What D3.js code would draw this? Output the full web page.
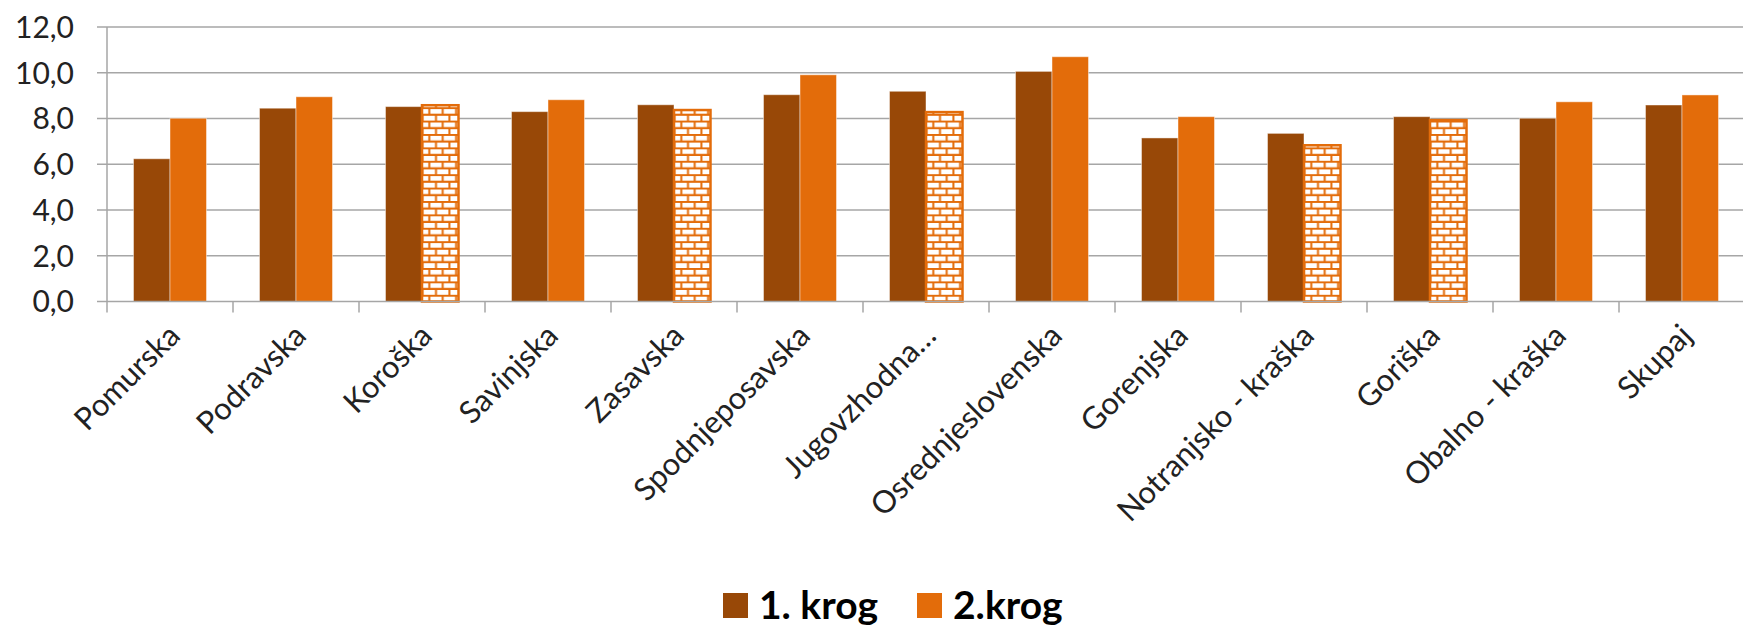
<!DOCTYPE html>
<html>
<head>
<meta charset="utf-8">
<script src="https://cdn.jsdelivr.net/npm/d3@7"></script>
<style>
  html, body { margin: 0; padding: 0; background: #fff; }
  svg { display: block; font-family: Lato, "Open Sans", sans-serif; }
</style>
</head>
<body>
<div id="chart"></div>
<script>
const regions = [
  "Pomurska", "Podravska", "Koroška", "Savinjska", "Zasavska",
  "Spodnjeposavska", "Jugovzhodna…", "Osrednjeslovenska", "Gorenjska",
  "Notranjsko - kraška", "Goriška", "Obalno - kraška", "Skupaj",
];
const krog1 = [6.24, 8.45, 8.52, 8.30, 8.60, 9.04, 9.19, 10.06, 7.15, 7.35, 8.08, 8.01, 8.59];
const krog2 = [8.01, 8.95, 8.58, 8.82, 8.37, 9.91, 8.28, 10.70, 8.08, 6.83, 7.93, 8.73, 9.03];
// 2. krog bars drawn with the brick hatch
const hatched = ["Koroška", "Zasavska", "Jugovzhodna…", "Notranjsko - kraška", "Goriška"];
const seriesNames = ["1. krog", "2.krog"];
const yTicks = [0, 2, 4, 6, 8, 10, 12];

const colors = { "1. krog": "#984807", "2.krog": "#E36C0A" };

const W = 1743, H = 626;
const margin = { top: 27, left: 107 };
const band = 126;
const baseY = 301.5;

const svg = d3.select("#chart").append("svg").attr("width", W).attr("height", H);

const defs = svg.append("defs");
const brick = defs.append("pattern")
  .attr("id", "brick")
  .attr("patternUnits", "userSpaceOnUse")
  .attr("width", 13.4).attr("height", 13.4);
brick.append("rect").attr("width", 13.4).attr("height", 13.4).attr("fill", "#fff");
brick.append("path")
  .attr("d", "M0,0.8H13.4M0,7.5H13.4M3.3,0V7.5M10,7.5V13.4")
  .attr("stroke", colors["2.krog"]).attr("stroke-width", 2).attr("fill", "none");

const x = d3.scaleBand().domain(regions).range([margin.left, margin.left + band * regions.length]);
const xs = d3.scaleBand().domain(seriesNames).range([26.5, band - 26.5]);
const y = d3.scaleLinear().domain([0, 12]).range([baseY, margin.top]);

// grid
svg.append("g").selectAll("line").data(yTicks.slice(1)).enter().append("line")
  .attr("x1", margin.left - 10).attr("x2", W)
  .attr("y1", (d) => y(d)).attr("y2", (d) => y(d))
  .attr("stroke", "#a6a6a6").attr("stroke-width", 1.5);

// y labels
svg.append("g").selectAll("text").data(yTicks).enter().append("text")
  .attr("x", 74).attr("y", (d) => y(d)).attr("dy", "0.36em")
  .attr("text-anchor", "end").attr("font-size", 30).attr("fill", "#222")
  .text((d) => d.toFixed(1).replace(".", ","));

// bars
const rows = regions.map((r, i) => ({ region: r, values: [krog1[i], krog2[i]] }));
const groups = svg.append("g").selectAll("g").data(rows).enter().append("g")
  .attr("transform", (d) => `translate(${x(d.region)},0)`);
groups.selectAll("rect")
  .data((d) => d.values.map((v, j) => ({ region: d.region, s: seriesNames[j], v })))
  .enter().append("rect")
  .attr("x", (d) => xs(d.s))
  .attr("y", (d) => y(d.v))
  .attr("width", xs.bandwidth())
  .attr("height", (d) => baseY - y(d.v))
  .attr("fill", (d) => d.s === "2.krog" && hatched.includes(d.region) ? "url(#brick)" : colors[d.s])
  .attr("stroke", (d) => d.s === "2.krog" && hatched.includes(d.region) ? colors["2.krog"] : "rgba(255,255,255,0.45)")
  .attr("stroke-width", (d) => d.s === "2.krog" && hatched.includes(d.region) ? 2.5 : 1);

// axes lines
svg.append("line").attr("x1", margin.left).attr("x2", margin.left)
  .attr("y1", y(12)).attr("y2", baseY).attr("stroke", "#a6a6a6").attr("stroke-width", 1.5);
svg.append("line").attr("x1", margin.left - 10).attr("x2", W)
  .attr("y1", baseY).attr("y2", baseY).attr("stroke", "#a6a6a6").attr("stroke-width", 1.5);
svg.append("g").selectAll("line").data(regions).enter().append("line")
  .attr("x1", (d) => x(d)).attr("x2", (d) => x(d))
  .attr("y1", baseY).attr("y2", baseY + 11)
  .attr("stroke", "#a6a6a6").attr("stroke-width", 1.5);

// x labels
svg.append("g").selectAll("text").data(regions).enter().append("text")
  .attr("transform", (d) => `translate(${x(d) + band / 2 + 12},${baseY + 36}) rotate(-45)`)
  .attr("text-anchor", "end").attr("font-size", 31).attr("fill", "#222")
  .text((d) => d);

// legend
const legend = svg.append("g").attr("transform", "translate(723,593)");
const items = [{ name: "1. krog", x: 0 }, { name: "2.krog", x: 194 }];
legend.selectAll("rect").data(items).enter().append("rect")
  .attr("x", (d) => d.x).attr("y", 0).attr("width", 25).attr("height", 25)
  .attr("fill", (d) => colors[d.name]);
legend.selectAll("text").data(items).enter().append("text")
  .attr("x", (d) => d.x + 36).attr("y", 26)
  .attr("font-size", 39).attr("font-weight", "bold").attr("fill", "#000")
  .text((d) => d.name);
</script>
</body>
</html>
